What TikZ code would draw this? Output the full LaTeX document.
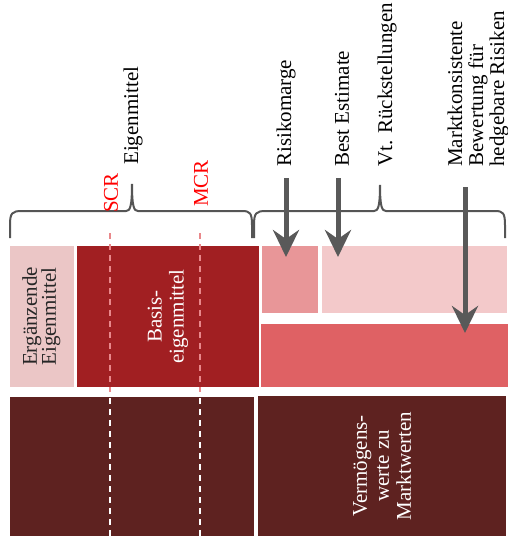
\documentclass[tikz,border=0pt]{standalone}
\usepackage{fontspec}
\setmainfont{Liberation Serif}
\usetikzlibrary{arrows.meta}
\definecolor{ergc}{HTML}{EBC6C6}
\definecolor{basc}{HTML}{A11F22}
\definecolor{riskc}{HTML}{E89698}
\definecolor{bestc}{HTML}{F3C9CA}
\definecolor{marktc}{HTML}{DF6164}
\definecolor{botc}{HTML}{5E2220}
\definecolor{arrc}{HTML}{595959}
\definecolor{bracec}{HTML}{555555}
\definecolor{dashc}{HTML}{E9888B}
\tikzset{
  box/.style={draw=none, inner sep=0pt, align=center, font=\fontsize{21}{22}\selectfont},
  lab/.style={rotate=90, anchor=west, inner sep=0pt, align=left, font=\fontsize{21}{22}\selectfont},
  redlab/.style={lab, text=red},
  bracestyle/.style={draw=bracec, line width=2pt},
  bigarrow/.style={draw=arrc, line width=5pt, -{Stealth[length=27pt,width=26pt,inset=9pt]}},
  dashpink/.style={draw=dashc, line width=2pt, dash pattern=on 6pt off 5pt},
  dashwhite/.style={draw=white, line width=2pt, dash pattern=on 6pt off 5pt},
}
\begin{document}
\begin{tikzpicture}[x=1pt,y=-1pt]
\useasboundingbox (0,0) rectangle (508,547);
% boxes
\node[box, fill=ergc, minimum width=64pt, minimum height=141pt, text=black!85] (erg) at (42,316.5) {\rotatebox{90}{\begin{tabular}{@{}c@{}}Ergänzende\\[-3pt]Eigenmittel\end{tabular}}};
\node[box, fill=basc, minimum width=182pt, minimum height=141pt] (bas) at (168,316.5) {};
\node[box, fill=riskc, minimum width=56pt, minimum height=67pt] (risk) at (290,279.5) {};
\node[box, fill=bestc, minimum width=185pt, minimum height=67pt] (best) at (414.5,279.5) {};
\node[box, fill=marktc, minimum width=247pt, minimum height=63pt] (markt) at (384.5,355.5) {};
\node[box, fill=botc, minimum width=244pt, minimum height=139pt] (botl) at (132,466.5) {};
\node[box, fill=botc, minimum width=248pt, minimum height=140pt] (botr) at (382,466) {};
% texts inside
\node[box, rotate=90, text=white] (bastext) at (bas.center) {Basis-\\eigenmittel};
\node[box, rotate=90, text=white] (vermtext) at (botr.center) {Vermögens-\\werte zu\\Marktwerten};
% dashed lines
\coordinate (scrT) at (110,233);
\coordinate (scrM) at (110,392);
\coordinate (scrB) at (110,398);
\coordinate (scrE) at (110,537);
\coordinate (mcrT) at (200,233);
\coordinate (mcrM) at (200,392);
\coordinate (mcrB) at (200,398);
\coordinate (mcrE) at (200,537);
\draw[dashpink] (scrT) -- (scrM);
\draw[dashpink] (mcrT) -- (mcrM);
\draw[dashwhite] (scrB) -- (scrE);
\draw[dashwhite] (mcrB) -- (mcrE);
% braces
\draw[bracestyle] (10,238) -- (10,225) .. controls (10,213) and (12,211) .. (22,211) -- (126,211) .. controls (130,211) and (132,207) .. (132,184) .. controls (132,207) and (134,211) .. (138,211) -- (242,211) .. controls (250,211) and (252,213) .. (252,225) -- (252,238);
\draw[bracestyle] (254,238) -- (254,225) .. controls (254,213) and (256,211) .. (266,211) -- (374,211) .. controls (378,211) and (380,207) .. (380,185) .. controls (380,207) and (382,211) .. (386,211) -- (495,211) .. controls (503,211) and (505,213) .. (505,225) -- (505,238);
% labels
\node[lab] (eig) at (133,165) {Eigenmittel};
\node[redlab] (scr) at (111,213) {SCR};
\node[redlab] (mcr) at (201,207) {MCR};
\node[lab] (rm) at (286,167) {Risikomarge};
\node[lab] (be) at (342,167) {Best Estimate};
\node[lab] (vt) at (387,167) {Vt. Rückstellungen};
\node[lab, font=\fontsize{21}{21}\selectfont] (mk) at (478,167) {Marktkonsistente\\Bewertung für\\hedgebare Risiken};
% arrows
\coordinate (a1s) at (286,178);
\coordinate (a1e) at (286,257);
\coordinate (a2s) at (338,178);
\coordinate (a2e) at (338,257);
\coordinate (a3s) at (465,187);
\coordinate (a3e) at (465,333);
\draw[bigarrow] (a1s) -- (a1e);
\draw[bigarrow] (a2s) -- (a2e);
\draw[bigarrow] (a3s) -- (a3e);
\end{tikzpicture}
\end{document}
